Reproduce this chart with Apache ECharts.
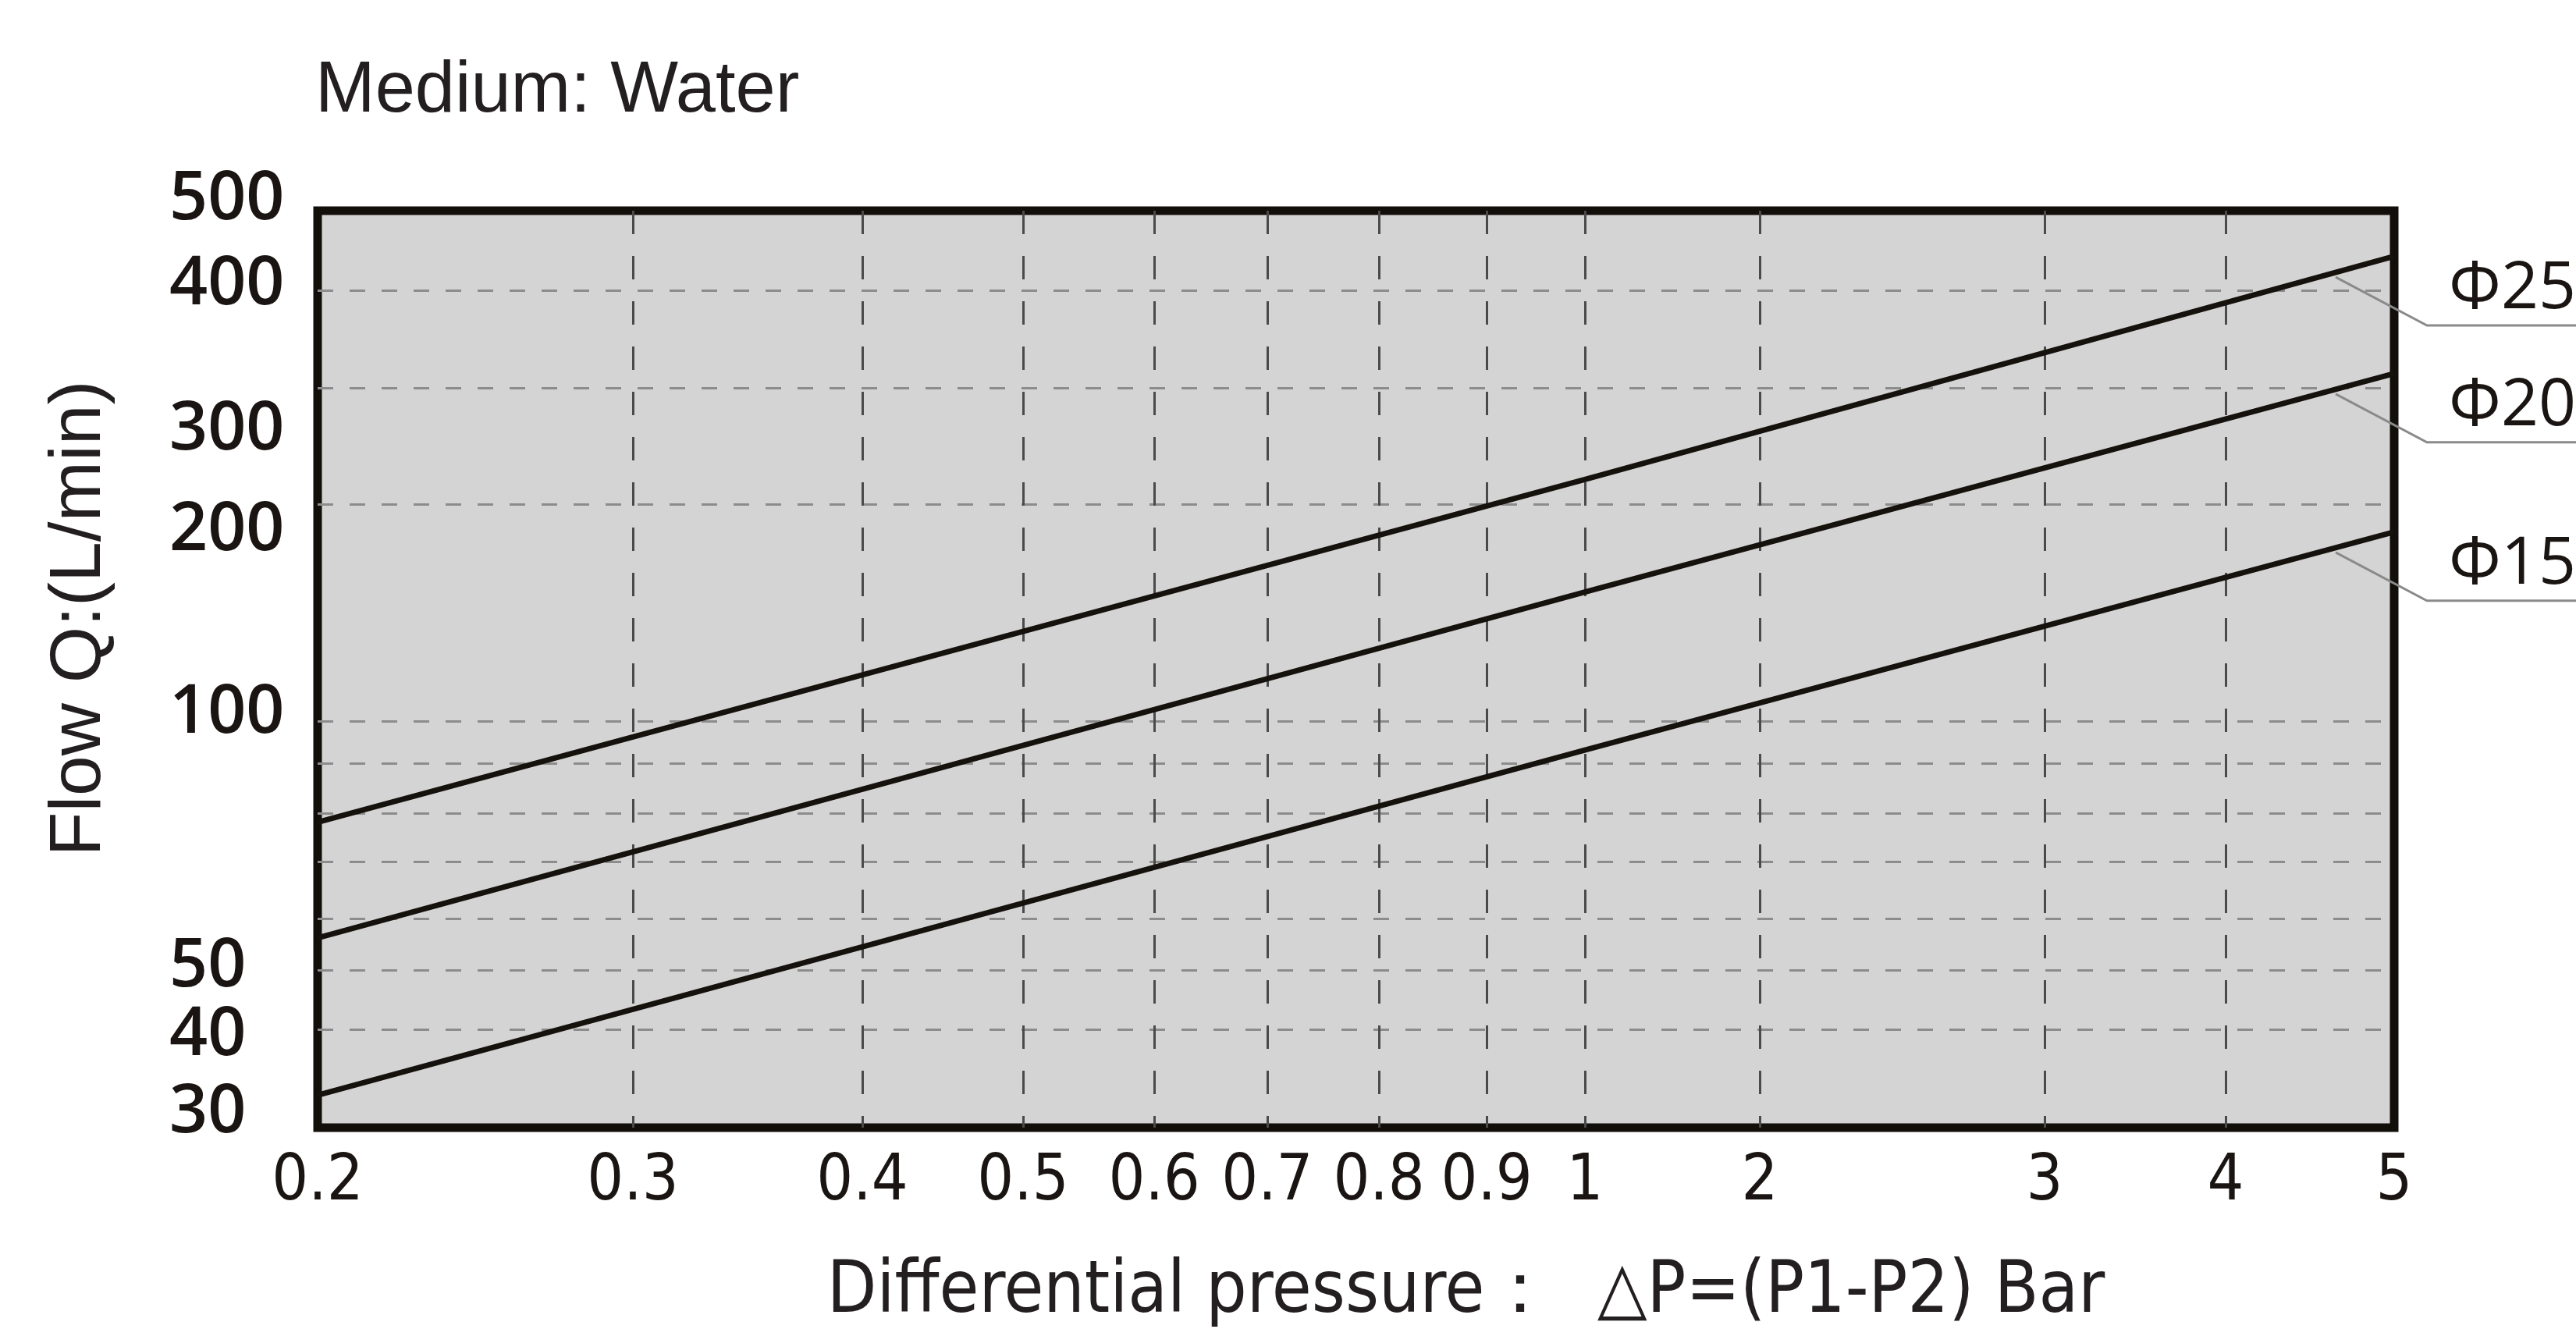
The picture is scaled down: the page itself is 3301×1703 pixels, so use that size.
<!DOCTYPE html>
<html><head><meta charset="utf-8">
<script src="https://cdn.jsdelivr.net/npm/echarts@6/dist/echarts.min.js"></script>
<style>html,body{margin:0;padding:0;background:#fff}#c{width:3301px;height:1703px}</style>
</head><body><div id="c"></div>
<script>
// ---------------- data ----------------
const X_TICKS = [0.2, 0.3, 0.4, 0.5, 0.6, 0.7, 0.8, 0.9, 1, 2, 3, 4, 5];
const X_TICK_LABELS = ['0.2','0.3','0.4','0.5','0.6','0.7','0.8','0.9','1','2','3','4','5'];
const Y_TICKS = [30, 40, 50, 60, 70, 80, 90, 100, 200, 300, 400, 500];
const Y_TICK_LABELS = ['30','40','50','','','','','100','200','300','400','500'];
const SERIES_NAMES = ['Φ25', 'Φ20', 'Φ15'];
const DP = [0.2, 1, 5];              // differential pressure, bar
const Q_D25 = [78, 218, 440];        // flow L/min
const Q_D20 = [56, 151, 313];
const Q_D15 = [33, 93, 183];

// ---------------- axis layout (printed, non-uniform log scale) ----------------
// fraction of the axis length at which each printed tick sits
const X_TICK_AT = [0, .1518, .2623, .3397, .4029, .4573, .5111, .5630, .6103, .6945, .8316, .9188, 1];
const Y_TICK_AT = [0, .1072, .1719, .2281, .2902, .3430, .3974, .4434, .6800, .8068, .9132, 1];
// vertical nudges of printed y labels (px, + = down)
const Y_LABEL_NUDGE = [-19, 8, -4, 0, 0, 0, 0, -10, 34, 54, -6, -14];

function makeScale(ticks, at) {
  const lt = ticks.map(Math.log);
  return function (v) {
    const l = Math.log(v);
    let i = 0;
    while (i < lt.length - 2 && l > lt[i + 1]) i++;
    return at[i] + (l - lt[i]) / (lt[i + 1] - lt[i]) * (at[i + 1] - at[i]);
  };
}
function nearestIdx(at, u) {
  let b = 0;
  for (let i = 1; i < at.length; i++) if (Math.abs(at[i] - u) < Math.abs(at[b] - u)) b = i;
  return b;
}
const sx = makeScale(X_TICKS, X_TICK_AT);
const sy = makeScale(Y_TICKS, Y_TICK_AT);
const pts = qs => DP.map((p, i) => [sx(p), sy(qs[i])]);

const INK = '#1a1512';
const NARROW = "'DejaVu Sans Condensed', 'Liberation Sans', sans-serif";
const yRich = {};
Y_LABEL_NUDGE.forEach((d, i) => {
  yRich['n' + i] = {
    fontFamily: 'Open Sans', fontWeight: 600, fontSize: 86, color: INK,
    padding: d >= 0 ? [2 * d, 0, 0, 0] : [0, 0, -2 * d, 0]
  };
});

const chart = echarts.init(document.getElementById('c'));
const lineStyle = { color: '#15110d', width: 7 };
chart.setOption({
  animation: false,
  backgroundColor: '#ffffff',
  title: {
    text: 'Medium: Water', left: 404, top: 72, padding: 0,
    textStyle: { fontFamily: 'Liberation Sans', fontSize: 92, fontWeight: 'normal', color: '#231f20' }
  },
  grid: {
    left: 407, right: 233, top: 270, bottom: 258,
    show: true, backgroundColor: '#d4d4d4', borderColor: '#120e0a', borderWidth: 11,
    containLabel: false, outerBoundsMode: 'none'
  },
  xAxis: {
    type: 'value', min: 0, max: 1,
    axisLine: { show: false },
    axisTick: { show: false, customValues: X_TICK_AT },
    axisLabel: {
      customValues: X_TICK_AT, showMinLabel: true, showMaxLabel: true,
      formatter: u => X_TICK_LABELS[nearestIdx(X_TICK_AT, u)],
      margin: 30, fontFamily: NARROW, fontSize: 82, color: INK
    },
    splitLine: { show: true, showMinLine: false, showMaxLine: false,
      lineStyle: { color: '#4a4a4a', width: 3, type: [30, 28] } },
    name: 'Differential pressure：  △P=(P1-P2) Bar',
    nameLocation: 'middle', nameGap: 166,
    nameTextStyle: { fontFamily: NARROW, fontSize: 92, color: '#231f20', padding: [0, 0, 0, 282] }
  },
  yAxis: {
    type: 'value', min: 0, max: 1,
    axisLine: { show: false },
    axisTick: { show: false, customValues: Y_TICK_AT },
    axisLabel: {
      customValues: Y_TICK_AT, showMinLabel: true, showMaxLabel: true,
      align: 'left', margin: 190,
      formatter: u => { const i = nearestIdx(Y_TICK_AT, u); return Y_TICK_LABELS[i] ? '{n' + i + '|' + Y_TICK_LABELS[i] + '}' : ''; },
      rich: yRich,
      fontFamily: 'Open Sans', fontWeight: 600, fontSize: 86, color: INK
    },
    splitLine: { show: true, showMinLine: false, showMaxLine: false,
      lineStyle: { color: '#8c8c8c', width: 3, type: [20, 21] } },
    name: 'Flow Q:(L/min)', nameLocation: 'middle', nameRotate: 90, nameGap: 258,
    nameTextStyle: { fontFamily: 'Liberation Sans', fontSize: 93, color: '#231f20', padding: [0, 0, 0, 130] }
  },
  series: [
    { type: 'line', name: SERIES_NAMES[0], data: pts(Q_D25), symbol: 'none', lineStyle, silent: true, z: 3 },
    { type: 'line', name: SERIES_NAMES[1], data: pts(Q_D20), symbol: 'none', lineStyle, silent: true, z: 3 },
    { type: 'line', name: SERIES_NAMES[2], data: pts(Q_D15), symbol: 'none', lineStyle, silent: true, z: 3 }
  ]
});

// leader lines + series tags on the right
const G = [];
[Q_D25, Q_D20, Q_D15].forEach((qs, k) => {
  const a = chart.convertToPixel({ gridIndex: 0 }, [sx(DP[1]), sy(qs[1])]);
  const b = chart.convertToPixel({ gridIndex: 0 }, [sx(DP[2]), sy(qs[2])]);
  const ax = b[0] - 75;
  const ay = a[1] + (b[1] - a[1]) * (ax - a[0]) / (b[0] - a[0]) + 6;
  const bx = ax + 117, by = ay + 62;
  G.push({ type: 'polyline', silent: true, z: 1,
    shape: { points: [[ax, ay], [bx, by], [3301, by]] },
    style: { stroke: '#8a8a8a', lineWidth: 3, fill: null } });
  G.push({ type: 'text', silent: true, x: 3138, y: by - 4,
    style: { text: SERIES_NAMES[k], fontFamily: 'Open Sans', fontSize: 84, fill: INK, verticalAlign: 'bottom', align: 'left' } });
});
chart.setOption({ graphic: G });
</script></body></html>
